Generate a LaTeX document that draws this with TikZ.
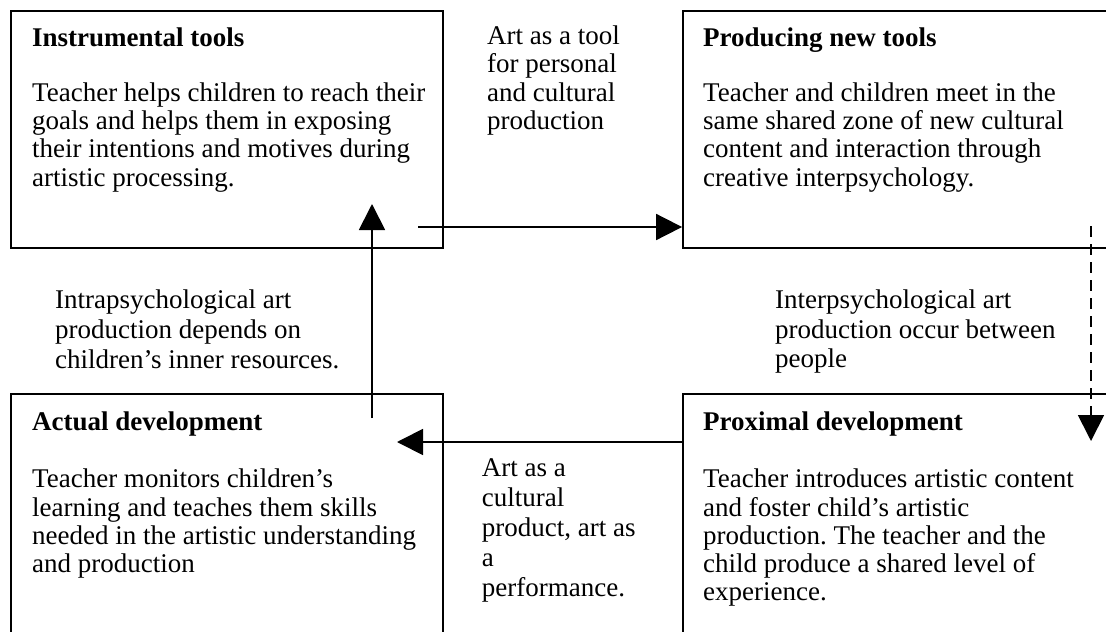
\documentclass[tikz,border=0pt]{standalone}
\usepackage{fontspec}
\setmainfont{Liberation Serif}
\usetikzlibrary{arrows.meta}
\newcommand{\topstrut}{\rule{0pt}{20pt}}
\frenchspacing
\begin{document}
\begin{tikzpicture}[x=1pt,y=-1pt,
    txt/.style={anchor=north west,inner sep=0pt,align=left,font=\fontsize{27}{28.3}\selectfont},
    lbl/.style={anchor=north west,inner sep=0pt,align=left,font=\fontsize{27}{29.8}\selectfont},
    arr/.style={line width=1.8pt,-{Triangle[length=26pt,width=26pt]}}]
    \tikzstyle{zone}=[draw,line width=1.8pt,inner sep=0pt]
    \useasboundingbox (0,0) rectangle (1106,632);

    \node[zone,minimum width=432pt,minimum height=237pt] (tl) at (227,129.5) {};
    \node[zone,minimum width=427pt,minimum height=237pt] (tr) at (896.5,129.5) {};
    \node[zone,minimum width=432pt,minimum height=251pt] (bl) at (227,519.5) {};
    \node[zone,minimum width=427pt,minimum height=251pt] (br) at (896.5,519.5) {};

    \node[txt] (tltext) at (32,26) {\topstrut\textbf{Instrumental tools}\\[26.7pt]
      Teacher helps children to reach their\\ goals and helps them in exposing\\
      their intentions and motives during\\ artistic processing.};
    \node[txt] (trtext) at (703,26) {\topstrut\textbf{Producing new tools}\\[26.7pt]
      Teacher and children meet in the\\ same shared zone of new cultural\\
      content and interaction through\\ creative interpsychology.};
    \node[txt] (bltext) at (32,410) {\topstrut\textbf{Actual development}\\[29.2pt]
      Teacher monitors children's\\ learning and teaches them skills\\
      needed in the artistic understanding\\ and production};
    \node[txt] (brtext) at (703,410.5) {\topstrut\textbf{Proximal development}\\[28.7pt]
      Teacher introduces artistic content\\ and foster child's artistic\\
      production. The teacher and the\\ child produce a shared level of\\ experience.};

    \node[txt] (toolart) at (487,24.3) {\topstrut Art as a tool\\ for personal\\ and cultural\\ production};
    \node[lbl] (intra) at (55,288.3) {\topstrut Intrapsychological art\\ production depends on\\ children's inner resources.};
    \node[lbl] (inter) at (775,288) {\topstrut Interpsychological art\\ production occur between\\ people};
    \node[lbl] (product) at (481.7,456.7) {\topstrut Art as a\\ cultural\\ product, art as\\ a\\ performance.};

    \coordinate (p1) at (418,227);
    \coordinate (p2) at (372,418);
    \coordinate (p3) at (372,204);
    \coordinate (p4) at (397,442);
    \coordinate (p5) at (1091,226);
    \coordinate (p6) at (1091,441);

    \draw[arr] (p1) -- (p1 -| tr.west);
    \draw[arr] (p2) -- (p3);
    \draw[arr] (p4 -| br.west) -- (p4);
    \draw[arr,dash pattern=on 11pt off 7pt] (p5) -- (p6);

  \end{tikzpicture}
\end{document}
